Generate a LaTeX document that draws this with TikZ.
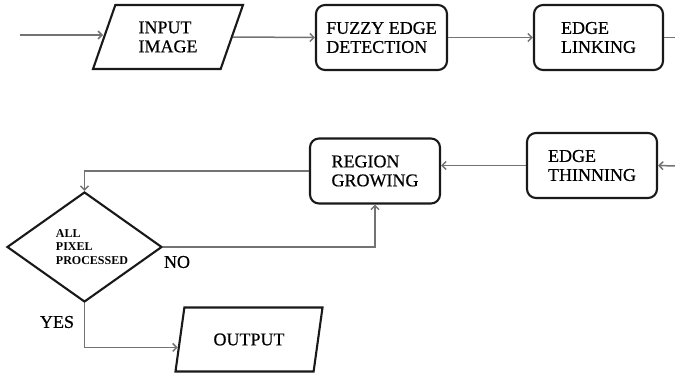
\documentclass[tikz,border=0pt]{standalone}
\usepackage{fontspec}
\setmainfont{Liberation Serif}[UprightFeatures={FakeBold=0.5}]
\usetikzlibrary{shapes.geometric,arrows.meta,calc}
\begin{document}
\begin{tikzpicture}[x=1pt,y=-1pt,
  txt/.style={font=\fontsize{18}{19}\selectfont},
  box/.style={draw=black!90, line width=2.1pt, rounded corners=9pt, minimum height=65pt, inner sep=0pt, align=left, txt},
  para/.style={draw=black!90, line width=2.1pt, trapezium, trapezium left angle=68, trapezium right angle=112, trapezium stretches=true, minimum height=64pt, inner sep=0pt, align=left, txt},
  decision/.style={draw=black!90, line width=2.1pt, diamond, minimum width=155pt, minimum height=110pt, inner sep=0pt},
  line/.style={draw=black!55, line width=1.5pt},
  conn/.style={line, -{Straight Barb[length=4pt,width=8pt]}}
]
\useasboundingbox (0,0) rectangle (675,377);

\node[para, minimum width=150pt] (inp) at (168,37) {INPUT\\IMAGE};
\node[box, minimum width=131pt] (fuzzy) at (381.5,37.5) {FUZZY EDGE\\DETECTION};
\node[box, minimum width=129pt] (link) at (598.5,37.5) {EDGE\\LINKING};
\node[box, minimum width=130pt] (thin) at (592,165.5) {EDGE\\THINNING};
\node[box, minimum width=130pt] (reg) at (375,171) {REGION\\GROWING};
\node[decision] (dec) at (84.5,247) {};
\node[font=\bfseries\fontsize{12}{13.5}\selectfont, align=left, inner sep=0pt] (dectext) at (92,247) {ALL\\PIXEL\\PROCESSED};
\node[para, minimum width=148pt] (out) at (249,339.5) {OUTPUT};

\node[txt, inner sep=0pt] (no) at (177,262) {NO};
\node[txt, inner sep=0pt] (yes) at (57,322) {YES};

\coordinate (inStart) at (20,35);
\coordinate (linkOut) at (675,37.5);
\coordinate (thinIn) at (675,166);

\draw[conn] (inStart) -- (inStart -| inp.west);
\draw[conn] (inp.east) -- (fuzzy.west);
\draw[conn] (fuzzy.east) -- (link.west);
\draw[line] (link.east) -- (linkOut);
\draw[conn] (thinIn) -- (thin.east);
\draw[conn] (thin.west) -- (thin.west -| reg.east);
\draw[conn] (reg.west) -| (dec.north);
\draw[conn] (dec.east) -| (reg.south);
\draw[conn] (dec.south) |- ($(out.bottom left corner)!0.38!(out.top left corner)$);
\end{tikzpicture}
\end{document}
